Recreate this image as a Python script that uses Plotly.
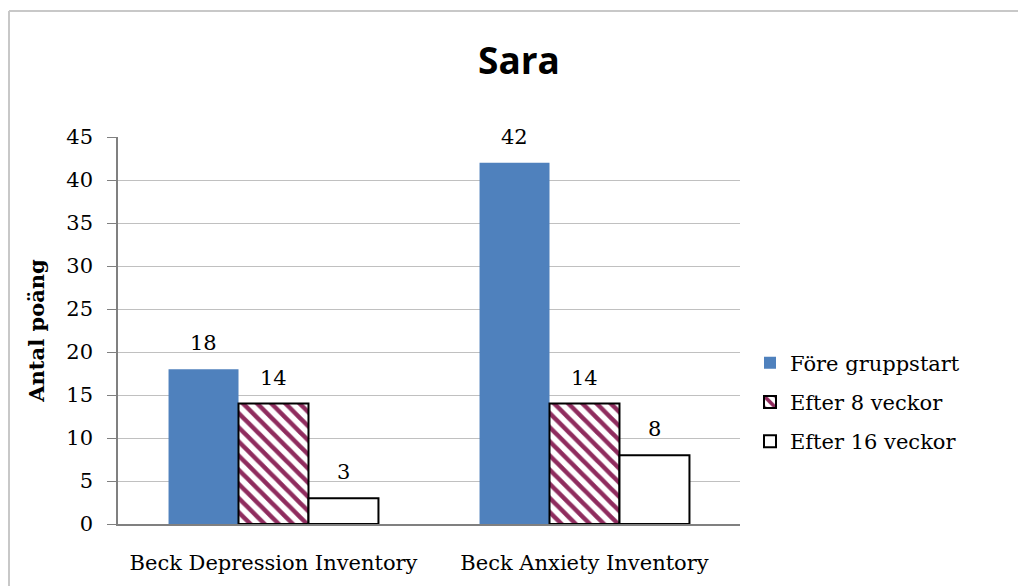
import plotly.graph_objects as go

# Chart data
categories = ["Beck Depression Inventory", "Beck Anxiety Inventory"]
series_names = ["Före gruppstart", "Efter 8 veckor", "Efter 16 veckor"]
fore_gruppstart = [18, 42]
efter_8_veckor = [14, 14]
efter_16_veckor = [3, 8]
y_ticks = [0, 5, 10, 15, 20, 25, 30, 35, 40, 45]

W, H = 1018, 586
ML, MR, MT, MB = 118, 278, 137, 62
plot_w = W - ML - MR
plot_h = H - MT - MB
BARGAP = 0.325

serif = "DejaVu Serif, Liberation Serif, serif"
label_font = dict(family=serif, size=21, color="#000000")

series = [fore_gruppstart, efter_8_veckor, efter_16_veckor]
markers = [
    dict(color="#4F81BD", line=dict(width=0)),
    dict(color="#FFFFFF", line=dict(color="#000000", width=2),
         pattern=dict(shape="\\", fgcolor="#8F2C5E", bgcolor="#FFFFFF",
                      fgopacity=1, size=10, solidity=0.45, fillmode="replace")),
    dict(color="#FFFFFF", line=dict(color="#000000", width=2)),
]

fig = go.Figure()
for i, (name, vals, mk) in enumerate(zip(series_names, series, markers)):
    fig.add_trace(go.Bar(name=name, x=categories, y=vals, marker=mk,
                         legendgroup=f"g{i}"))

# Value labels above each bar, shifted to the bar's slot within its group
cat_px = plot_w / len(categories)
bar_px = cat_px * (1 - BARGAP) / len(series)
for i, vals in enumerate(series):
    shift = (i - (len(series) - 1) / 2) * bar_px
    for cat, v in zip(categories, vals):
        fig.add_annotation(x=cat, y=v, text=str(v), showarrow=False,
                           xref="x", yref="y", xshift=shift, yshift=12,
                           yanchor="bottom", font=label_font)

# Outer chart frame (left and top edges)
px_to_x = lambda px: (px - ML) / plot_w
py_to_y = lambda py: (H - MB - py) / plot_h
frame = dict(color="#C8C8C8", width=2)
fig.add_shape(type="line", xref="paper", yref="paper",
              x0=px_to_x(9), x1=px_to_x(9), y0=py_to_y(11), y1=py_to_y(H + 5), line=frame)
fig.add_shape(type="line", xref="paper", yref="paper",
              x0=px_to_x(9), x1=px_to_x(W + 5), y0=py_to_y(11), y1=py_to_y(11), line=frame)

fig.update_layout(
    width=W, height=H,
    margin=dict(l=ML, r=MR, t=MT, b=MB),
    paper_bgcolor="#FFFFFF", plot_bgcolor="#FFFFFF",
    barmode="group", bargap=BARGAP, bargroupgap=0,
    title=dict(text="<b>Sara</b>", x=px_to_x(519), xref="paper", xanchor="center",
               y=1 - 61 / H, yanchor="middle",
               font=dict(family="Open Sans, Liberation Sans, sans-serif", size=37, color="#000000")),
    legend=dict(x=px_to_x(750), xanchor="left", y=py_to_y(402), yanchor="middle",
                font=dict(family=serif, size=21, color="#000000"),
                itemwidth=30, tracegroupgap=9, bgcolor="rgba(0,0,0,0)"),
    showlegend=True,
)

fig.update_xaxes(
    showline=True, linecolor="#808080", linewidth=1.5,
    tickfont=label_font, ticks="", showgrid=False, ticklabelstandoff=19,
)
fig.update_yaxes(
    range=[0, 45], tickvals=y_ticks,
    showline=True, linecolor="#808080", linewidth=1.5,
    ticks="outside", ticklen=9, tickcolor="#808080",
    showgrid=True, gridcolor="#C0C0C0", gridwidth=1,
    tickfont=label_font, zeroline=False, ticklabelstandoff=10,
    title=dict(text="<b>Antal poäng</b>", font=dict(family=serif, size=21, color="#000000"),
               standoff=16),
)

fig.write_html("out.html")
